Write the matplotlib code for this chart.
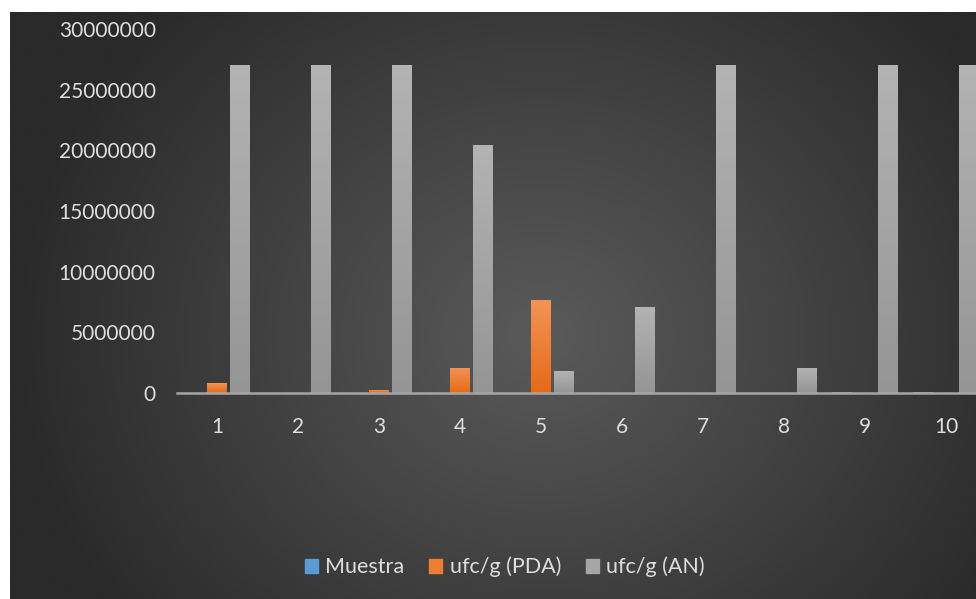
import numpy as np
import matplotlib.pyplot as plt
from matplotlib.colors import LinearSegmentedColormap
from matplotlib.patches import Patch

plt.rcParams['font.family'] = ['Lato', 'DejaVu Sans']

# datos
muestras = ['1', '2', '3', '4', '5', '6', '7', '8', '9', '10']
muestra = [0, 0, 0, 0, 0, 0, 0, 0, 90000, 90000]
ufc_pda = [800000, 0, 250000, 2100000, 7700000, 0, 0, 0, 0, 0]
ufc_an = [27000000, 27000000, 27000000, 20400000, 1800000,
          7100000, 27000000, 2100000, 27000000, 27000000]
yticks = [0, 5000000, 10000000, 15000000, 20000000, 25000000, 30000000]

texto = '#dedede'

fig = plt.figure(figsize=(9.76, 5.99), dpi=100)
fig.patch.set_facecolor('white')

# fondo oscuro con degradado radial
bg = fig.add_axes([10 / 976, 0, 966 / 976, 587 / 599])
yy, xx = np.mgrid[0:1:300j, 0:1:500j]
d = np.sqrt(((xx - 0.55) / 0.55) ** 2 + ((yy - 0.55) / 0.8) ** 2)
cmap_bg = LinearSegmentedColormap.from_list('bg', ['#5a5a5a', '#2a2a2a'])
bg.imshow(np.clip(d, 0, 1), cmap=cmap_bg, vmin=0, vmax=1, aspect='auto',
          extent=(0, 1, 0, 1), origin='upper')
bg.axis('off')

ax = fig.add_axes([176.5 / 976, 206 / 599, 810 / 976, 364 / 599])
ax.patch.set_alpha(0)

x = np.arange(len(muestras))
w = 0.235
off = 0.284

b1 = ax.bar(x - off, muestra, w, color='#5b9bd5', zorder=2)
b2 = ax.bar(x, ufc_pda, w, color='#ed7d31', zorder=2)
b3 = ax.bar(x + off, ufc_an, w, color='#a5a5a5', zorder=2)

# degradado vertical dentro de cada barra
grad = np.linspace(1, 0, 50).reshape(-1, 1)
for barras, c_top, c_bot in [(b2, '#f39457', '#e66a18'), (b3, '#b3b3b3', '#959595')]:
    cm = LinearSegmentedColormap.from_list('g', [c_bot, c_top])
    for p in barras:
        if p.get_height() <= 0:
            continue
        x0, y0 = p.get_x(), p.get_y()
        im = ax.imshow(grad, cmap=cm, vmin=0, vmax=1, aspect='auto',
                       extent=(x0, x0 + p.get_width(), y0, y0 + p.get_height()),
                       zorder=2.1)
        im.set_clip_path(p)

ax.set_xlim(-0.5, len(muestras) - 0.5)
ax.set_ylim(0, 30000000)
ax.set_xticks(x)
ax.set_xticklabels(muestras)
ax.set_yticks(yticks)
ax.set_yticklabels([str(v) for v in yticks])
ax.tick_params(axis='both', length=0, colors=texto, labelsize=15)
ax.tick_params(axis='y', pad=15)
ax.tick_params(axis='x', pad=17)
for s in ['left', 'top', 'right']:
    ax.spines[s].set_visible(False)
ax.spines['bottom'].set_color('#a6a6a6')
ax.spines['bottom'].set_linewidth(1.8)
ax.spines['bottom'].set_zorder(3)

handles = [Patch(color='#5b9bd5'), Patch(color='#ed7d31'), Patch(color='#a5a5a5')]
fig.legend(handles, ['Muestra', 'ufc/g (PDA)', 'ufc/g (AN)'], loc='center',
           bbox_to_anchor=(505 / 976, 32 / 599), ncol=3, frameon=False,
           fontsize=15.5, labelcolor=texto, handlelength=0.6, handleheight=0.6,
           handletextpad=0.35, columnspacing=1.15)

fig.savefig('out.png', dpi=100)
